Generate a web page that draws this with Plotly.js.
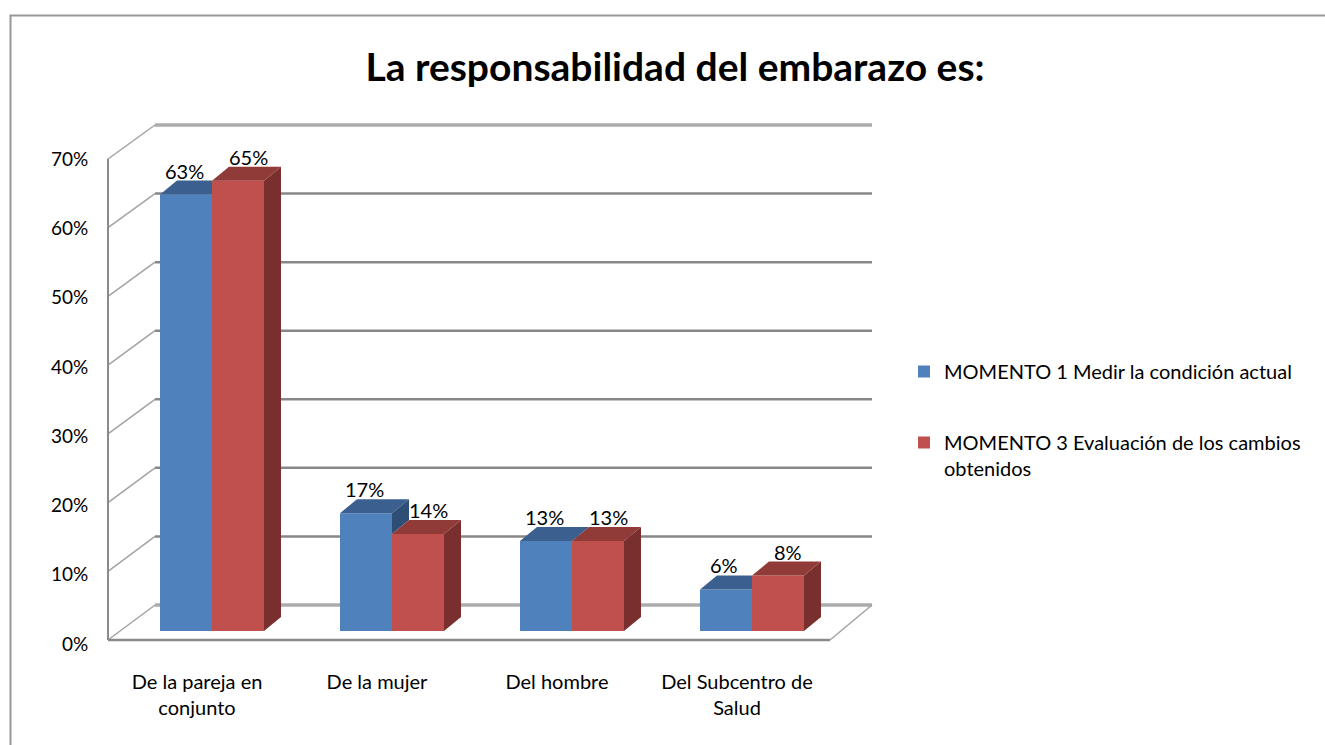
<!DOCTYPE html>
<html>
<head>
<meta charset="utf-8">
<script src="https://cdn.plot.ly/plotly-3.0.1.min.js"></script>
<style>html,body{margin:0;padding:0;background:#fff;}#chart{width:1325px;height:745px;}</style>
</head>
<body>
<div id="chart"></div>
<script>
// ---- data ----
const categories = ["De la pareja en<br>conjunto", "De la mujer", "Del hombre", "Del Subcentro de<br>Salud"];
const seriesNames = ["MOMENTO 1 Medir la condición actual", "MOMENTO 3 Evaluación de los cambios<br>obtenidos"];
const momento1 = [63, 17, 13, 6];
const momento3 = [65, 14, 13, 8];
const yTickVals = [0, 10, 20, 30, 40, 50, 60, 70];

// ---- layout geometry (pixels) ----
const W = 1325, H = 745;
const fx = p => p / W;
const fy = p => 1 - p / H;
const FONT = "Lato, 'Open Sans', sans-serif";

const barW = 0.2889;          // bar width in category units
const depthX = 17 / 180;      // 3D depth offset, x (category units)
const depthY = 14 / (485 / 70); // 3D depth offset, y (value units)

const blue = "#4F81BD", blueTop = "#3B6090", blueSide = "#2F4E75";
const red = "#C0504D", redTop = "#913B39", redSide = "#782F2D";

const idx = categories.map((c, i) => i);

const traces = [];
traces.push({
  type: "bar", name: seriesNames[0], x: idx, y: momento1,
  width: barW, offset: -barW, marker: {color: blue, line: {width: 0}},
  legendgroup: "a", hoverinfo: "skip"
});
traces.push({
  type: "bar", name: seriesNames[1], x: idx, y: momento3,
  width: barW, offset: 0, marker: {color: red, line: {width: 0}},
  legendgroup: "b", hoverinfo: "skip"
});

function poly(xs, ys, color) {
  traces.push({
    type: "scatter", mode: "lines", x: xs.concat([xs[0]]), y: ys.concat([ys[0]]),
    fill: "toself", fillcolor: color, line: {width: 0, color: color},
    showlegend: false, hoverinfo: "skip"
  });
}

idx.forEach(i => {
  const b = momento1[i], r = momento3[i];
  const xl = i - barW;
  // blue top face (part behind red front is hidden)
  const t = Math.max(0, Math.min(1, (r - b) / depthY));
  const yc = b + t * depthY;
  poly([xl, i, i, i + t * depthX, i + depthX, xl + depthX],
       [b, b, yc, yc, b + depthY, b + depthY], blueTop);
  // blue side face, visible part above red
  if (b > r) {
    poly([i, i, i + depthX, i + depthX], [r, b, b + depthY, r + depthY], blueSide);
  }
  // red side face
  poly([i + barW, i + barW, i + barW + depthX, i + barW + depthX], [0, r, r + depthY, depthY], redSide);
  // red top face
  poly([i, i + barW, i + barW + depthX, i + depthX], [r, r, r + depthY, r + depthY], redTop);
});

// invisible helper trace for the label axes
traces.push({type: "scatter", x: [null], y: [null], xaxis: "x2", yaxis: "y2", showlegend: false, hoverinfo: "skip"});

// ---- decorative 3D walls (shapes, from tick values) ----
const shapes = [];
const frontL = 108, backL = 155, backR = 872, frontR = 830;
const frontY = v => 640 - v * (640 - 159) / 70;
const backY = v => 605 - v * (605 - 125) / 70;
const seg = (x0, y0, x1, y1, color, width) => shapes.push({
  type: "line", xref: "paper", yref: "paper", layer: "below",
  x0: fx(x0), y0: fy(y0), x1: fx(x1), y1: fy(y1), line: {color: color, width: width}
});
yTickVals.forEach(v => {
  const edge = (v === 0 || v === 70);
  seg(backL, backY(v), backR, backY(v), edge ? "#ababab" : "#878787", edge ? 3.5 : 2.5);
  seg(frontL, frontY(v), backL, backY(v), "#a3a3a3", 1.5);
});
seg(frontL, frontY(0), frontR, frontY(0), "#8a8a8a", 2.5);
seg(frontR, frontY(0), backR, backY(0), "#a3a3a3", 1.5);
seg(frontL, frontY(0), frontL, frontY(70), "#8a8a8a", 2);
// chart border
shapes.push({type: "rect", xref: "paper", yref: "paper", layer: "below",
  x0: fx(10.5), y0: fy(15.5), x1: 1.05, y1: -0.05, line: {color: "#979797", width: 2}});

// ---- data labels ----
const annotations = [];
idx.forEach(i => {
  annotations.push({x: i - barW / 2, y: momento1[i], xref: "x", yref: "y", text: momento1[i] + "%",
    showarrow: false, yshift: 24, xshift: -2, font: {family: FONT, size: 20, color: "#000"}});
  annotations.push({x: i + barW / 2, y: momento3[i], xref: "x", yref: "y", text: momento3[i] + "%",
    showarrow: false, yshift: 24, xshift: 10, font: {family: FONT, size: 20, color: "#000"}});
});

const layout = {
  width: W, height: H,
  margin: {l: 0, r: 0, t: 0, b: 0},
  paper_bgcolor: "#fff", plot_bgcolor: "rgba(0,0,0,0)",
  font: {family: FONT, size: 20, color: "#000"},
  barmode: "overlay",
  title: {text: "<b>La responsabilidad del embarazo es:</b>", x: fx(675), xanchor: "center",
    y: fy(67), yanchor: "middle", font: {family: FONT, size: 39, color: "#000"}},
  xaxis: {domain: [fx(122), fx(842)], range: [-0.5, 3.5], visible: false, fixedrange: true},
  yaxis: {domain: [fy(631), fy(146)], range: [0, 70], visible: false, fixedrange: true},
  xaxis2: {domain: [fx(107), fx(827)], range: [-0.5, 3.5], anchor: "free",
    position: fy(668), tickvals: idx, ticktext: categories, showgrid: false, zeroline: false,
    showline: false, ticks: "", tickfont: {family: FONT, size: 20, color: "#000"}},
  yaxis2: {domain: [fy(644), fy(159)], range: [0, 70], anchor: "free",
    position: fx(108), tickvals: yTickVals, ticktext: yTickVals.map(v => v + "%"),
    showgrid: false, zeroline: false, showline: false, ticks: "outside", ticklen: 16,
    tickcolor: "rgba(0,0,0,0)", tickfont: {family: FONT, size: 19, color: "#000"}},
  showlegend: true,
  legend: {x: fx(904), xanchor: "left", y: fy(352), yanchor: "top", valign: "top",
    tracegroupgap: 42, font: {family: FONT, size: 20, color: "#000"}, bgcolor: "rgba(0,0,0,0)"},
  shapes: shapes,
  annotations: annotations
};

Plotly.newPlot("chart", traces, layout, {displayModeBar: false, staticPlot: true});
</script>
</body>
</html>
